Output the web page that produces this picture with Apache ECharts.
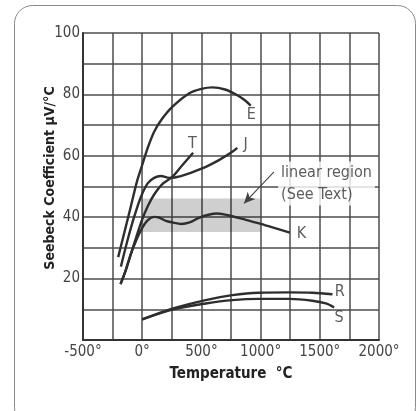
<!DOCTYPE html>
<html>
<head>
<meta charset="utf-8">
<script src="https://cdn.jsdelivr.net/npm/echarts@6/dist/echarts.min.js"></script>
<style>
html,body{margin:0;padding:0;background:#fff;}
#c{width:417px;height:411px;}
</style>
</head>
<body>
<div id="c"></div>
<script>
// ---- data (temperature °C, Seebeck coefficient µV/°C) ----
const seriesE = [[-203,27],[-152,34.8],[-96,43.5],[-45,51.5],[0,57],[46,62.5],[101,67.8],[158,71.5],[254,75.9],[395,80.3],[500,81.8],[592,82.3],[700,81.6],[800,79.8],[870,78],[917,76.3]];
const seriesJ = [[-180,23.9],[-124,32.5],[-68,40.1],[-11,46.6],[46,51],[101,52.8],[158,53.4],[228,52.8],[327,53.4],[507,55.9],[648,58.6],[761,61.3],[803,62.6]];
const seriesT = [[-183,18.2],[-140,22.6],[-96,28],[-50,33.5],[0,39.3],[50,43.8],[101,47.4],[170,50.8],[254,53.1],[340,57],[430,61]];
const seriesK = [[-183,18.2],[-140,22.6],[-96,28],[-50,32.5],[0,36.5],[46,39],[101,40.1],[141,39.9],[200,38.8],[254,38.3],[330,37.8],[400,38.3],[479,39.8],[560,40.8],[634,41.2],[761,40.3],[870,39.2],[987,38],[1100,36.7],[1247,35]];
const seriesR = [[0,6.7],[254,10.2],[536,13],[761,14.6],[987,15.4],[1241,15.5],[1438,15.4],[1607,14.9]];
const seriesS = [[0,6.7],[254,9.9],[536,11.9],[761,13],[987,13.4],[1241,13.4],[1438,12.8],[1551,11.9],[1621,10.6]];
const curveNames = ['E','J','T','K','R','S'];
const curveLabels = [['E',922,73.2],['T',423,64],['J',874,63.7],['K',1345,34.7],['R',1669,15.7],['S',1663,7.1]];
const linearRegion = {x:[0,1000], y:[35.2,46.1]};
const annotationText = ['linear region','(See Text)'];
const annotationAnchor = [1148,51];
const arrowFrom = [1113,54.8];
const arrowTo = [860,44.5];
const xTickValues = [-500,0,500,1000,1500,2000];
const xTickLabels = ['-500°','0°','500°','1000°','1500°','2000°'];
const yTickValues = [20,40,60,80,100];
const yTickLabels = ['20','40','60','80','100'];
const xTitle = 'Temperature  °C';
const yTitle = 'Seebeck Coefficient µV/°C';

const FONT = '"DejaVu Sans Condensed","Liberation Sans Narrow","Arial Narrow",sans-serif';
const lineColor = '#2e2e2e';
const curves = [seriesE, seriesJ, seriesT, seriesK, seriesR, seriesS];

const chart = echarts.init(document.getElementById('c'), null, {renderer:'canvas'});
const series = curves.map((d,i) => ({
  type:'line', name:curveNames[i], data:d, smooth:0.3, showSymbol:false, symbol:'none',
  lineStyle:{color:lineColor, width:2.4}, z:5, silent:true
}));
series[3].markArea = {
  silent:true,
  itemStyle:{color:'rgba(0,0,0,0.19)'},
  data:[[{coord:[linearRegion.x[0], linearRegion.y[0]]},{coord:[linearRegion.x[1], linearRegion.y[1]]}]]
};
series.push({
  type:'scatter', symbolSize:0, silent:true, z:6,
  data:curveLabels.map(l => [l[1], l[2], l[0]]),
  label:{show:true, position:'inside', formatter:p=>p.value[2], color:'#333', fontFamily:FONT, fontSize:16}
});
series.push({
  type:'scatter', symbolSize:0, silent:true, z:4,
  data:[[annotationAnchor[0], annotationAnchor[1], annotationText.join('\n')]],
  label:{show:true, position:'inside', align:'left', verticalAlign:'middle', formatter:p=>p.value[2],
    color:'#333', fontFamily:FONT, fontSize:16, lineHeight:22, backgroundColor:'#fff', padding:[0,3,0,3]},
  markLine:{
    silent:true, symbol:['none','arrow'], symbolSize:[8,11],
    lineStyle:{color:'#444', width:1.1, type:'solid'}, label:{show:false},
    data:[[{coord:arrowFrom},{coord:arrowTo}]]
  }
});

chart.setOption({
  animation:false,
  grid:{left:83, right:38, top:33, bottom:71, containLabel:false, outerBoundsMode:'none'},
  xAxis:{type:'value', min:-500, max:2000, interval:250,
    axisLine:{show:true, onZero:false, lineStyle:{color:'#333', width:2}}, axisTick:{show:false},
    splitLine:{show:true, lineStyle:{color:'#4d4d4d', width:1.5}},
    axisLabel:{color:'#444', fontFamily:FONT, fontSize:15, margin:5,
      formatter:v => { const k = xTickValues.indexOf(v); return k>=0 ? xTickLabels[k] : ''; }},
    name:xTitle, nameLocation:'middle', nameGap:27,
    nameTextStyle:{color:'#222', fontFamily:FONT, fontSize:15, fontWeight:'bold'}
  },
  yAxis:{type:'value', min:0, max:100, interval:10,
    axisLine:{show:true, onZero:false, lineStyle:{color:'#333', width:2}}, axisTick:{show:false},
    splitLine:{show:true, lineStyle:{color:'#4d4d4d', width:1.5}},
    axisLabel:{color:'#444', fontFamily:FONT, fontSize:15, margin:3,
      formatter:v => { const k = yTickValues.indexOf(v); return k>=0 ? yTickLabels[k] : ''; }}
  },
  graphic:[
    {type:'rect', shape:{x:14.5, y:5.5, width:401, height:420, r:18}, style:{fill:'none', stroke:'#8a8a8a', lineWidth:1}, z:-1, silent:true},
    {type:'text', x:50, y:178, rotation:Math.PI/2, style:{text:yTitle, fill:'#222', font:'bold 14px '+FONT, align:'center', verticalAlign:'middle'}, silent:true}
  ],
  series:series
});
</script>
</body>
</html>
